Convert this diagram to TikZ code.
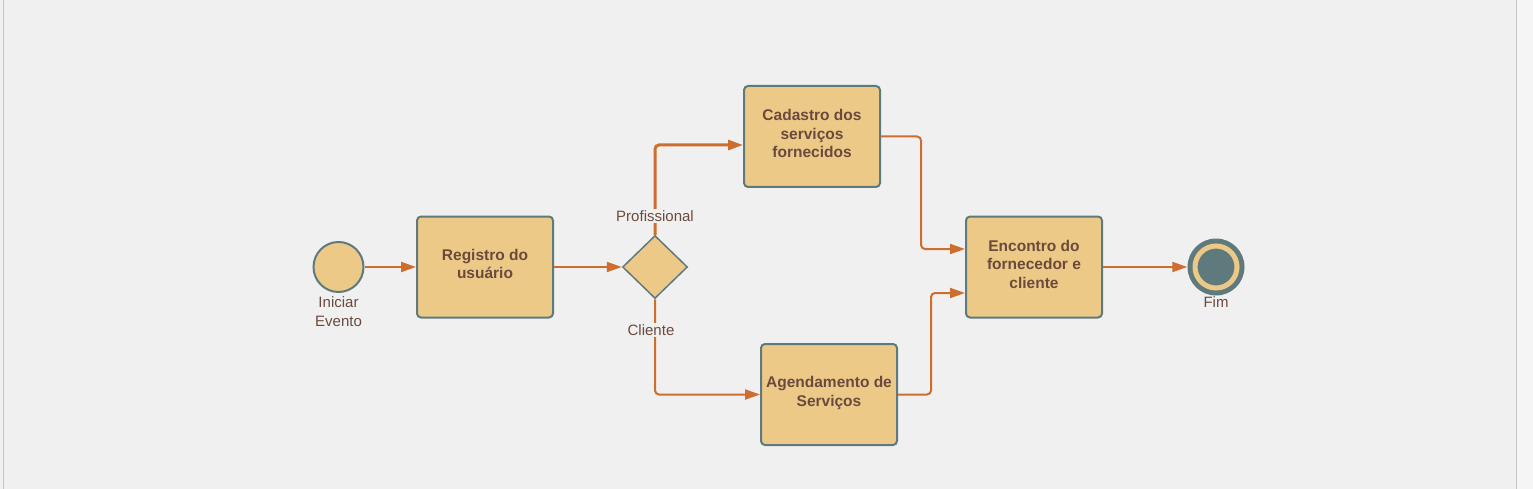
\documentclass[tikz,border=0pt]{standalone}
\usepackage{fontspec}
\setmainfont{Liberation Sans}
\usetikzlibrary{shapes.geometric,arrows.meta}
\definecolor{bpmnbg}{HTML}{F0F0F0}
\definecolor{bpmnstrip}{HTML}{F5F5F5}
\definecolor{bpmnrule}{HTML}{C6C6C6}
\definecolor{bpmnfill}{HTML}{EDC988}
\definecolor{bpmnedge}{HTML}{5F7A7C}
\definecolor{bpmntext}{HTML}{6B4A3E}
\definecolor{bpmnflow}{HTML}{CD6E2E}
\begin{document}
\begin{tikzpicture}[x=1pt,y=-1pt,
        task/.style={rectangle, rounded corners=4pt, draw=bpmnedge, fill=bpmnfill, line width=2pt,
            minimum width=136pt, minimum height=101pt, inner sep=1pt, align=center, text depth=6pt,
            text=bpmntext, font=\fontsize{15.5}{18.5}\selectfont\bfseries},
        flow/.style={draw=bpmnflow, line width=2pt, rounded corners=4pt, -{Triangle[length=15pt,width=10pt]}},
        lbl/.style={text=bpmntext, font=\fontsize{15}{19}\selectfont, inner sep=1pt}]
                \useasboundingbox (0,0) rectangle (1533,489);
                \fill[bpmnbg] (0,0) rectangle (1516,489);
                \fill[bpmnstrip] (1516,0) rectangle (1533,489);
                \draw[bpmnrule, line width=1pt] (3.5,0) -- (3.5,489);
                \draw[bpmnrule, line width=1pt] (1516.5,0) -- (1516.5,489);
                
                \node [circle, draw=bpmnedge, fill=bpmnfill, line width=2pt, minimum size=50pt, inner sep=0pt, label={[name=IElbl, lbl, align=center, inner sep=0pt, label distance=3.5pt]below:{Iniciar\\Evento}}] (IE) at (338.5,267) {};
                \node [task] (RU) at (485,267) {Registro do\\usuário};
                \node [diamond, draw=bpmnedge, fill=bpmnfill, line width=1.5pt, minimum width=65pt, minimum height=63pt, inner sep=0pt] (GW) at (655,267) {};
                
                \node [task] (CS) at (812,136.5) {Cadastro dos\\serviços\\fornecidos};
                \node [task] (AS) at (829,394.5) {Agendamento de\\Serviços};
                \node [task] (EF) at (1034,267) {Encontro do\\fornecedor e\\cliente};
                
                \node [circle, fill=bpmnedge, minimum size=57pt, inner sep=0pt, label={[name=FMlbl, lbl, inner sep=0pt, label distance=1pt]below:{Fim}}] (FM) at (1216,267) {};
                \node [circle, draw=bpmnfill, fill=bpmnedge, line width=5pt, minimum size=42pt, inner sep=0pt] (FMin) at (FM) {};
                
                \draw [flow] (IE) -- (RU);
                \draw [flow] (RU) -- (GW);
                \draw [flow, line width=3pt] (GW.north) |- ([yshift=-8.5pt]CS.west);
                \draw [flow] (GW.south) |- (AS.west);
                \draw [flow] (CS.east) -- ([xshift=40pt]CS.east) |- ([yshift=18pt]EF.west);
                \draw [flow] (AS.east) -- ([xshift=33pt]AS.east) |- ([yshift=-26pt]EF.west);
                \draw [flow] (EF) -- (FM);
                
                \node [lbl, fill=bpmnbg] (PR) at (655,216) {Profissional};
                \node [lbl, fill=bpmnbg] (CL) at (651,330) {Cliente};
            \end{tikzpicture}
\end{document}
